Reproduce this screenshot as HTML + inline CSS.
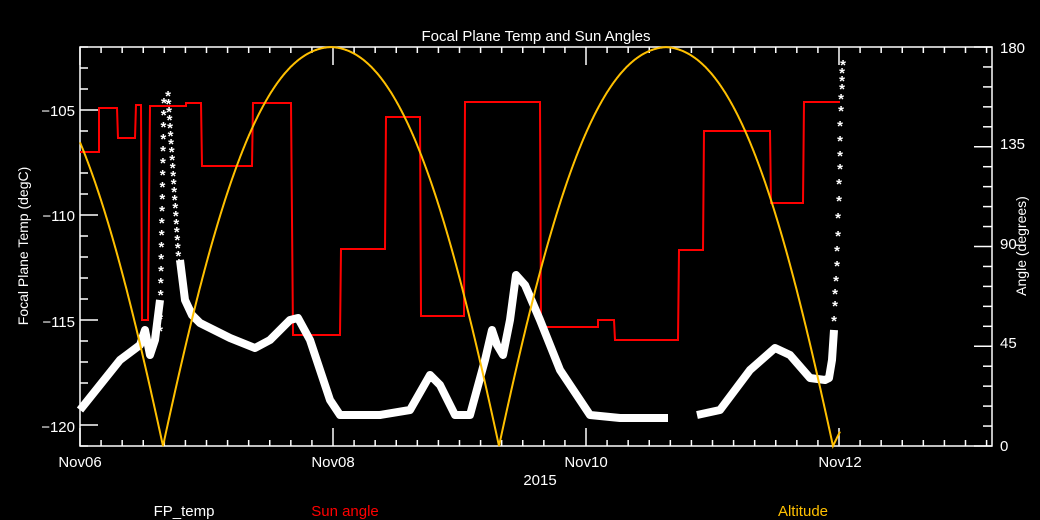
<!DOCTYPE html>
<html><head><meta charset="utf-8"><style>
html,body{margin:0;padding:0;background:#000;}
svg{display:block;font-family:"Liberation Sans",sans-serif;}
</style></head><body>
<svg id="s" width="1040" height="520" xmlns="http://www.w3.org/2000/svg">
<rect width="1040" height="520" fill="#000"/>
<g id="ticks" stroke="#fff" stroke-width="1.5"></g>
<rect x="80" y="47" width="912" height="399" fill="none" stroke="#fff" stroke-width="1.5"/>
<polyline fill="none" stroke="#ff0000" stroke-width="2" points="80,152 99,152 99,108 117,108 118,138 135,138 136,105 141,105 142,320 148,320 150,106 186,106 186,103 201,103 202,166 252,166 253,103 291,103 293,335 340,335 341,249 385,249 386,117 420,117 421,316 464,316 465,102 540,102 541,327 598,327 598,320 614,320 615,340 678,340 679,250 703,250 704,131 770,131 771,203 803,203 804,102 840,102"/>
<polyline fill="none" stroke="#fff" stroke-width="8" stroke-linejoin="round" points="80,410 100,385 120,360 140,345 145,330 150,355 155,340 160,300"/>
<polyline fill="none" stroke="#fff" stroke-width="8" stroke-linejoin="round" points="180,260 185,300 192,315 200,323 230,338 255,348 270,340 290,320 298,318 310,340 330,400 340,415 380,415 410,410 430,375 440,385 455,415 470,415 485,360 492,330 497,345 503,355 510,320 516,275 525,285 540,320 560,370 590,415 620,418 668,418"/>
<polyline fill="none" stroke="#fff" stroke-width="8" stroke-linejoin="round" points="697,415 720,410 750,370 775,348 790,355 810,378 825,380 829,378 832,360 834,330"/>
<g id="stars" fill="#fff" font-size="15" font-weight="bold" text-anchor="middle"></g>
<path id="alt" fill="none" stroke="#ffc000" stroke-width="2"/>
<g fill="#fff" font-size="15">
<text x="536" y="41" text-anchor="middle">Focal Plane Temp and Sun Angles</text>
<text x="75" y="116" text-anchor="end">−105</text>
<text x="75" y="221" text-anchor="end">−110</text>
<text x="75" y="327" text-anchor="end">−115</text>
<text x="75" y="432" text-anchor="end">−120</text>
<text x="1000" y="53">180</text>
<text x="1000" y="149">135</text>
<text x="1000" y="249">90</text>
<text x="1000" y="348">45</text>
<text x="1000" y="451">0</text>
<text x="80" y="467" text-anchor="middle">Nov06</text>
<text x="333" y="467" text-anchor="middle">Nov08</text>
<text x="586" y="467" text-anchor="middle">Nov10</text>
<text x="840" y="467" text-anchor="middle">Nov12</text>
<text x="540" y="485" text-anchor="middle">2015</text>
<text x="28" y="246" text-anchor="middle" font-size="14" transform="rotate(-90 28 246)">Focal Plane Temp (degC)</text>
<text x="1026" y="246" text-anchor="middle" font-size="14" transform="rotate(-90 1026 246)">Angle (degrees)</text>
<text x="184" y="516" text-anchor="middle">FP_temp</text>
<text x="345" y="516" text-anchor="middle" fill="#ff0000">Sun angle</text>
<text x="803" y="516" text-anchor="middle" fill="#ffc000">Altitude</text>
</g>
</svg>
<script>
var ns="http://www.w3.org/2000/svg",t=document.getElementById('ticks');
function ln(x1,y1,x2,y2){var l=document.createElementNS(ns,'line');l.setAttribute('x1',x1);l.setAttribute('y1',y1);l.setAttribute('x2',x2);l.setAttribute('y2',y2);t.appendChild(l);}
for(var i=0;i<=43;i++){var x=80+i*126.5/6;if(x>992)break;var L=(i%12==0)?18:6;ln(x,446,x,446-L);ln(x,47,x,47+L);}
for(var v=-121;v<=-102;v++){var y=47+(-102-v)*21.0;var L=(v%5==0)?18:8;ln(80,y,80+L,y);}
for(var a=0;a<=180;a+=9){var y=446-a*399/180;var L=(a%45==0)?18:9;ln(992,y,992-L,y);}
function f(d){var u=Math.min(d/170,1);return Math.sin(Math.PI/2*u*(1.25-0.25*u));}
var mins=[163,499,833];
var d="";for(var x=80;x<=840;x+=0.5){var dd=1e9;mins.forEach(function(m){dd=Math.min(dd,Math.abs(x-m));});var fr=f(dd);if(x>833)fr*=0.45;d+=(x==80?"M":"L")+x+","+(446-fr*399).toFixed(1);}
document.getElementById('alt').setAttribute('d',d);
var st=document.getElementById('stars');
function star(x,y){var e=document.createElementNS(ns,'text');e.setAttribute('x',x);e.setAttribute('y',y+6);e.textContent='*';st.appendChild(e);}
for(var y=330;y>=95;y-=12){star(160+(330-y)/235*4,y);}
for(var y=95;y<=265;y+=8){star(168+(y-95)/170*11,y);}
var pts=[[834,320],[835,305],[835,293],[836,280],[837,265],[837,250],[838,235],[838,217],[839,200],[839,183],[840,168],[840,155],[840,140],[840,125],[841,110],[841,98],[842,88],[842,80],[842,72],[843,64]];
pts.forEach(function(p){star(p[0],p[1]);});
</script>
</body></html>
